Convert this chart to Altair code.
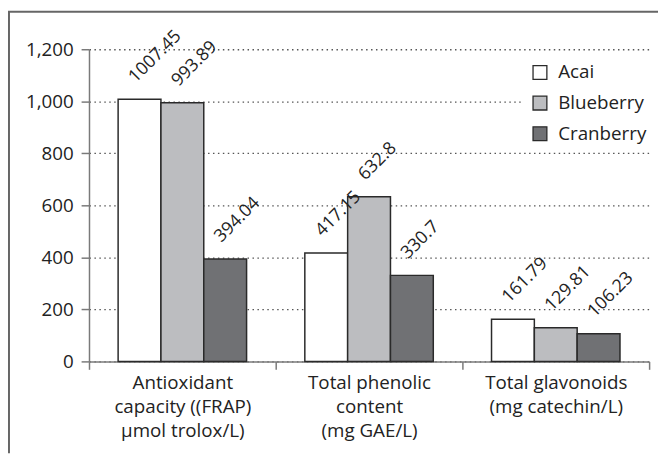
import altair as alt
import pandas as pd

categories = [
    "Antioxidant|capacity ((FRAP)|µmol trolox/L)",
    "Total phenolic|content|(mg GAE/L)",
    "Total glavonoids|(mg catechin/L)",
]
series = ["Acai", "Blueberry", "Cranberry"]
acai = [1007.45, 417.15, 161.79]
blueberry = [993.89, 632.8, 129.81]
cranberry = [394.04, 330.7, 106.23]
y_ticks = [0, 200, 400, 600, 800, 1000, 1200]
colors = ["#ffffff", "#bcbdc0", "#707174"]

rows = []
for s, vals in zip(series, [acai, blueberry, cranberry]):
    for c, v in zip(categories, vals):
        rows.append({"category": c, "series": s, "value": v, "label": str(v)})
df = pd.DataFrame(rows)

FONT = "Open Sans"
TXT = "#222222"

x_enc = alt.X(
    "category:N",
    sort=categories,
    scale=alt.Scale(paddingInner=0, paddingOuter=0),
    axis=alt.Axis(
        title=None,
        labelAngle=0,
        tickBand="extent",
        tickSize=8,
        labelPadding=4,
        labelExpr="split(datum.label, '|')",
        labelLineHeight=24.5,
        labelBaseline="top",
        labelFontSize=19,
        labelLimit=400,
        grid=False,
    ),
)
xo_enc = alt.XOffset(
    "series:N", sort=series, scale=alt.Scale(paddingInner=0, paddingOuter=0.68)
)
y_enc = alt.Y(
    "value:Q",
    scale=alt.Scale(domain=[0, 1200], nice=False),
    axis=alt.Axis(
        title=None,
        values=y_ticks,
        format=",.0f",
        tickSize=8,
        labelPadding=8,
        labelFontSize=19,
        grid=True,
        gridColor="#555555",
        gridDash=[1.5, 3.5],
        gridWidth=1.3,
    ),
)

base = alt.Chart(df)

bars = base.mark_bar(stroke="#2a2a2a", strokeWidth=1.5).encode(
    x=x_enc,
    xOffset=xo_enc,
    y=y_enc,
    color=alt.Color(
        "series:N",
        sort=series,
        scale=alt.Scale(domain=series, range=colors),
        legend=alt.Legend(
            title=None,
            orient="none",
            legendX=439,
            legendY=6,
            symbolType="square",
            symbolSize=196,
            symbolStrokeColor="#2a2a2a",
            symbolStrokeWidth=1.3,
            labelFontSize=19,
            labelFont=FONT,
            labelColor=TXT,
            labelOffset=9,
            rowPadding=10,
            padding=8,
            fillColor="white",
        ),
    ),
)

texts = base.mark_text(
    angle=315,
    align="left",
    baseline="alphabetic",
    dx=8.5,
    dy=-14.1,
    fontSize=18,
    font=FONT,
    color=TXT,
).encode(x=x_enc, xOffset=xo_enc, y=y_enc, text="label:N")

frame_df = pd.DataFrame({"k": [0]})
frame_left = alt.Chart(frame_df).mark_rule(color="#666666", strokeWidth=2).encode(
    x=alt.value(-81), y=alt.value(-38), y2=alt.value(409)
)
frame_top = alt.Chart(frame_df).mark_rule(color="#666666", strokeWidth=2).encode(
    x=alt.value(-82), x2=alt.value(580), y=alt.value(-38)
)

chart = (
    alt.layer(bars, texts, frame_left, frame_top)
    .properties(
        width=567,
        height=316,
        padding={"left": 82, "top": 39, "right": 9, "bottom": 93},
        autosize=alt.AutoSizeParams(type="none"),
        background="white",
    )
    .configure(font=FONT)
    .configure_view(strokeWidth=0)
    .configure_axis(
        domainColor="#7a7a7a",
        domainWidth=1.5,
        tickColor="#7a7a7a",
        tickWidth=1.5,
        labelColor=TXT,
        labelFont=FONT,
    )
)

chart.save("out.html", embed_options={"renderer": "svg", "actions": False})
